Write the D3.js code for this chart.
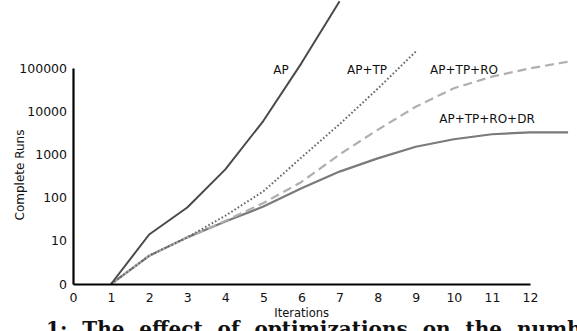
<!DOCTYPE html>
<html>
<head>
<meta charset="utf-8">
<script src="https://cdn.jsdelivr.net/npm/d3@7"></script>
<style>
html,body{margin:0;padding:0;background:#fff;}
svg{display:block;}
</style>
</head>
<body>
<svg id="chart" width="577" height="331"></svg>
<script>
const iterations = [1,2,3,4,5,6,7,8,9,10,11,12,13];
const seriesAP = [1,14,59,450,6000,130000,3500000];
const seriesAPTP = [1,4.5,12,38,140,850,5000,33000,240000];
const seriesAPTPRO = [1,4.5,12,29,75,230,1000,3700,12700,34000,63000,98000,140000];
const seriesAPTPRODR = [1,4.5,12,28,62,165,400,810,1500,2240,2930,3240,3240];
const seriesNames = ["AP","AP+TP","AP+TP+RO","AP+TP+RO+DR"];
const xTickValues = [0,1,2,3,4,5,6,7,8,9,10,11,12];
const yTickValues = [1,10,100,1000,10000,100000];
const yTickLabels = ["0","10","100","1000","10000","100000"];
const xTitle = "Iterations";
const yTitle = "Complete Runs";
const caption = "1: The effect of optimizations on the number of complete runs";

const svg = d3.select("#chart");
const x = d3.scaleLinear().domain([0,12]).range([73,530]);
const y = d3.scaleLog().domain([1,100000]).range([284,68]);

const styles = [
  {color:"#4a4a4a", dash:null, width:2},
  {color:"#666666", dash:"1.6,2.2", width:2},
  {color:"#b0b0b0", dash:"9,5", width:2.2},
  {color:"#7a7a7a", dash:null, width:2.2}
];
const allSeries = [seriesAP, seriesAPTP, seriesAPTPRO, seriesAPTPRODR];

const line = d3.line().x(d=>x(d[0])).y(d=>y(d[1]));

[3,2,1,0].forEach(i=>{
  const data = allSeries[i].map((v,k)=>[iterations[k], v]);
  svg.append("path")
    .attr("d", line(data))
    .attr("fill","none")
    .attr("stroke", styles[i].color)
    .attr("stroke-width", styles[i].width)
    .attr("stroke-dasharray", styles[i].dash)
    .attr("stroke-linejoin","round");
});

const fontFam = "'DejaVu Sans', sans-serif";

const xAxis = svg.append("g").attr("transform","translate(0,284)")
  .call(d3.axisBottom(x).tickValues(xTickValues).tickSize(0).tickPadding(9).tickFormat(d3.format("d")));
const yAxis = svg.append("g").attr("transform","translate(73,0)")
  .call(d3.axisLeft(y).tickValues(yTickValues).tickSize(0).tickPadding(6).tickFormat((d,i)=>yTickLabels[i]));

[xAxis,yAxis].forEach(g=>{
  g.select(".domain").attr("stroke","#000").attr("stroke-width",2.2);
  g.selectAll("text").attr("font-family",fontFam).attr("font-size","12.5px").attr("fill","#111");
});

svg.append("text").attr("x",301.7).attr("y",317).attr("text-anchor","middle")
  .attr("font-family",fontFam).attr("font-size","11.5px").attr("fill","#111").text(xTitle);
svg.append("text").attr("transform","translate(24,175) rotate(-90)").attr("text-anchor","middle")
  .attr("font-family",fontFam).attr("font-size","12px").attr("fill","#111").text(yTitle);

const labelPos = [[281,73.5],[367,73.5],[464,73.5],[487,122.5]];
seriesNames.forEach((n,i)=>{
  svg.append("text").attr("x",labelPos[i][0]).attr("y",labelPos[i][1]).attr("text-anchor","middle")
    .attr("font-family",fontFam).attr("font-size","12px").attr("fill","#111").text(n);
});

svg.append("text").attr("x",46).attr("y",336)
  .attr("font-family","'DejaVu Serif', serif").attr("font-weight","bold").attr("font-size","20px")
  .attr("word-spacing","8px").attr("fill","#111").text(caption);
</script>
</body>
</html>
